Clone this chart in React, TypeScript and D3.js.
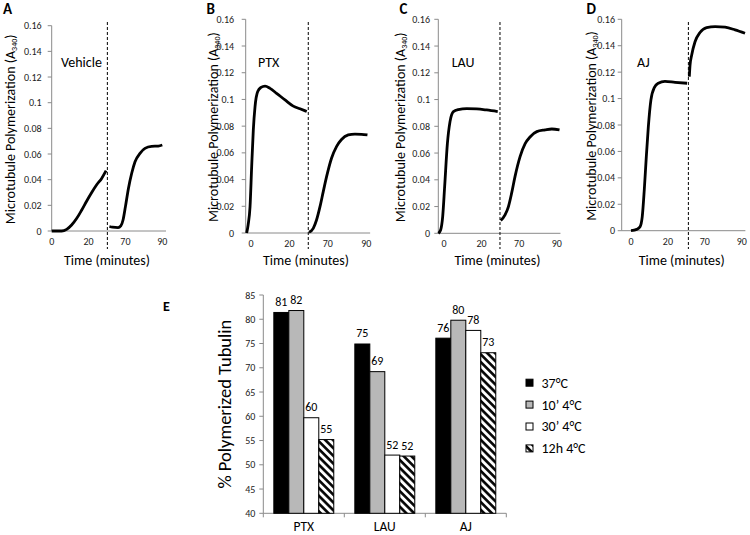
import React from "react";
import * as d3 from "d3";

// ---------- Panels A-D data (time in minutes as labelled, absorbance A340) ----------
const panelLetters = ["A", "B", "C", "D"];
const treatments = ["Vehicle", "PTX", "LAU", "AJ"];

const vehicleWarm: [number, number][] = [[0,0],[5.4,0],[8.1,0.0013],[10.8,0.0047],[13.6,0.0099],[16.3,0.0164],[19.0,0.0234],[21.7,0.030],[24.4,0.036],[27.1,0.041],[29.5,0.047]];
const vehicleRewarm: [number, number][] = [[61.3,0.0035],[63,0.003],[66,0.0027],[67.5,0.004],[68.7,0.0086],[70,0.019],[71.6,0.033],[73.4,0.045],[75.2,0.054],[77.9,0.0605],[80.6,0.0644],[84.2,0.066],[87.8,0.0662],[90,0.067]];

const ptxWarm: [number, number][] = [[-2.25,0],[-1.5,0.006],[-0.5,0.0197],[0.35,0.0497],[1.2,0.077],[2.1,0.0946],[3.5,0.106],[5.2,0.109],[7.3,0.110],[9.9,0.1083],[13.3,0.1046],[17.7,0.0996],[22,0.095],[25.5,0.093],[29,0.091]];
const ptxRewarm: [number, number][] = [[60.2,0.0005],[62.4,0.0035],[64.1,0.0097],[65.9,0.0197],[67.6,0.031],[69.3,0.042],[71.9,0.056],[74.5,0.0647],[77.1,0.070],[80.6,0.0734],[84.1,0.0741],[87.5,0.0739],[90.6,0.0734]];

const lauWarm: [number, number][] = [[-3,0],[-1.8,0.0025],[-0.7,0.0125],[0.35,0.035],[1.8,0.067],[3.2,0.0835],[5,0.091],[7.6,0.0925],[12.1,0.0932],[17.4,0.093],[22.7,0.0922],[28.6,0.091]];
const lauRewarm: [number, number][] = [[60.2,0.0095],[62.5,0.0137],[64.3,0.020],[66,0.030],[67.8,0.0424],[70.5,0.0573],[73.2,0.067],[75.8,0.072],[79.4,0.076],[83.8,0.0773],[87.4,0.078],[91.5,0.0773]];

const ajWarm: [number, number][] = [[0,0],[3.1,0.001],[4.9,0.003],[6.1,0.0106],[7.2,0.031],[8.3,0.056],[9.4,0.0787],[10.8,0.099],[12.7,0.1085],[14.8,0.1116],[18.4,0.113],[23.9,0.1123],[30.4,0.1116]];
const ajRewarm: [number, number][] = [[61.6,0.1166],[62,0.1254],[62.9,0.133],[64.7,0.143],[67.4,0.150],[71,0.1537],[75.6,0.1545],[81,0.154],[86.4,0.152],[91.8,0.1494]];

const warmSeries = [vehicleWarm, ptxWarm, lauWarm, ajWarm];
const rewarmSeries = [vehicleRewarm, ptxRewarm, lauRewarm, ajRewarm];

const timeTicks = [0, 20, 70, 90];
const absTicks = [0, 0.02, 0.04, 0.06, 0.08, 0.1, 0.12, 0.14, 0.16];
const coldStart = [30.2, 29.8, 29.8, 31.1]; // dashed line (cold shift) in axis units

// ---------- Panel E data ----------
const drugs = ["PTX", "LAU", "AJ"];
const conditions = ["37°C", "10’ 4°C", "30’ 4°C", "12h 4°C"];
const val37 = [81.4, 74.9, 76.1];
const val10 = [81.8, 69.2, 79.8];
const val30 = [59.7, 52.0, 77.7];
const val12h = [55.2, 51.8, 73.1];
const pctTicks = [40, 45, 50, 55, 60, 65, 70, 75, 80, 85];

// ---------- layout ----------
const FONT = "Carlito, Calibri, Lato, 'Open Sans', sans-serif";
const AXIS = "#8a8a8a";

const panels = [
  { yAxisX: 51.7, x0: 51.7, x60: 162.3, y0: 231, y16: 25.7, lx: 3, tx: 14.5, trx: 61, tickGap: 10 },
  { yAxisX: 245.7, x0: 251, x60: 366.3, y0: 233, y16: 19.3, lx: 206.5, tx: 217.5, trx: 258, tickGap: 11.5 },
  { yAxisX: 438.3, x0: 444, x60: 556.7, y0: 233.3, y16: 19.3, lx: 399.5, tx: 404.5, trx: 451.7, tickGap: 8.3 },
  { yAxisX: 621.7, x0: 631, x60: 741.7, y0: 230.7, y16: 19.3, lx: 586.5, tx: 595.5, trx: 637, tickGap: 6.7 },
];

// the time axis is broken: 0–30 min, then 60–90 min
const axisUnit = (t: number) => (t > 45 ? t - 30 : t);

function KineticPanel({ i }: { i: number }) {
  const p = panels[i];
  const x = d3.scaleLinear().domain([0, 60]).range([p.x0, p.x60]);
  const y = d3.scaleLinear().domain([0, 0.16]).range([p.y0, p.y16]);
  const line = d3
    .line<[number, number]>()
    .x((d) => x(axisUnit(d[0])))
    .y((d) => y(d[1]))
    .curve(d3.curveMonotoneX);
  const xEnd = x(62);
  const dashX = x(coldStart[i]);
  const titleY = (p.y0 + p.y16) / 2 + 1;
  return (
    <g fontFamily={FONT}>
      <text x={p.lx} y={14} fontSize={15} fontWeight="bold" fill="#000">{panelLetters[i]}</text>
      {/* y axis */}
      <line x1={p.yAxisX} x2={p.yAxisX} y1={y(0)} y2={y(0.16)} stroke={AXIS} strokeWidth={1} />
      {absTicks.map((t) => (
        <g key={t}>
          <line x1={p.yAxisX - 4} x2={p.yAxisX} y1={y(t)} y2={y(t)} stroke={AXIS} />
          <text x={p.yAxisX - p.tickGap} y={y(t)} dy="0.35em" textAnchor="end" fontSize={10} fill="#222">
            {d3.format("~g")(t)}
          </text>
        </g>
      ))}
      {/* x axis */}
      <line x1={p.yAxisX} x2={xEnd} y1={y(0)} y2={y(0)} stroke={AXIS} />
      {timeTicks.map((t) => (
        <text key={t} x={x(axisUnit(t))} y={y(0) + 14} textAnchor="middle" fontSize={10} fill="#222">
          {t}
        </text>
      ))}
      <text x={(p.yAxisX + p.x60) / 2} y={265} textAnchor="middle" fontSize={14} fill="#000">
        Time (minutes)
      </text>
      <text
        transform={`translate(${p.tx},${titleY}) rotate(-90)`}
        textAnchor="middle"
        fontSize={14}
        fill="#000"
      >
        Microtubule Polymerization (A
        <tspan dy={2} fontSize={8}>340</tspan>
        <tspan dy={-2}>)</tspan>
      </text>
      <text x={p.trx} y={67} fontSize={14} fill="#000">{treatments[i]}</text>
      {/* cold shift */}
      <line x1={dashX} x2={dashX} y1={22} y2={249} stroke="#000" strokeWidth={1} strokeDasharray="3,2" />
      <path d={line(warmSeries[i]) || ""} fill="none" stroke="#000" strokeWidth={2.8} />
      <path d={line(rewarmSeries[i]) || ""} fill="none" stroke="#000" strokeWidth={2.8} />
    </g>
  );
}

const fills = ["#000000", "#b8b8b8", "#ffffff", "url(#hatch)"];

function BarPanel() {
  const x = d3.scaleBand().domain(drugs).range([263.3, 506.3]).paddingInner(0.26).paddingOuter(0.13);
  const xs = d3.scaleBand().domain(conditions).range([0, x.bandwidth()]);
  const y = d3.scaleLinear().domain([40, 85]).range([513.3, 295]);
  const rows = drugs.map((d, j) => ({ drug: d, vals: [val37[j], val10[j], val30[j], val12h[j]] }));
  const step = x.step();
  const start = 263.3;
  return (
    <g fontFamily={FONT}>
      <text x={163} y={311} fontSize={14} fontWeight="bold" fill="#000">E</text>
      {/* y axis */}
      <line x1={start} x2={start} y1={y(40)} y2={y(85)} stroke={AXIS} />
      {pctTicks.map((t) => (
        <g key={t}>
          <line x1={start - 4} x2={start} y1={y(t)} y2={y(t)} stroke={AXIS} />
          <text x={start - 8} y={y(t)} dy="0.35em" textAnchor="end" fontSize={10} fill="#222">{t}</text>
        </g>
      ))}
      <text transform={`translate(231,${(y(40) + y(85)) / 2}) rotate(-90)`} textAnchor="middle" fontSize={18.5} fill="#000">
        % Polymerized Tubulin
      </text>
      {/* x axis */}
      <line x1={start} x2={start + step * 3} y1={y(40)} y2={y(40)} stroke={AXIS} />
      {[0, 1, 2, 3].map((k) => (
        <line key={k} x1={start + step * k} x2={start + step * k} y1={y(40)} y2={y(40) + 4} stroke={AXIS} />
      ))}
      {rows.map((r) => (
        <g key={r.drug}>
          {r.vals.map((v, k) => {
            const bx = (x(r.drug) || 0) + (xs(conditions[k]) || 0);
            return (
              <g key={k}>
                <rect x={bx} y={y(v)} width={xs.bandwidth()} height={y(40) - y(v)} fill={fills[k]} stroke="#000" strokeWidth={1} />
                <text x={bx + xs.bandwidth() / 2} y={y(v) - 6.5} textAnchor="middle" fontSize={12} fill="#000">
                  {Math.round(v)}
                </text>
              </g>
            );
          })}
          <text x={(x(r.drug) || 0) + x.bandwidth() / 2} y={530.5} textAnchor="middle" fontSize={13.5} fill="#000">
            {r.drug}
          </text>
        </g>
      ))}
      {/* legend */}
      {conditions.map((c, k) => {
        const cy = 382.7 + k * 21.9;
        return (
          <g key={c}>
            <rect x={526} y={cy - 3.5} width={7} height={7} fill={fills[k]} stroke="#000" strokeWidth={1} />
            <text x={541.5} y={cy} dy="0.35em" fontSize={14} fill="#000">{c}</text>
          </g>
        );
      })}
    </g>
  );
}

export default function App() {
  return (
    <svg width={750} height={535} style={{ position: "absolute", left: 0, top: 0, background: "#fff" }}>
      <defs>
        <pattern id="hatch" patternUnits="userSpaceOnUse" width={5.5} height={5.5} patternTransform="rotate(-45)">
          <rect width={5.5} height={5.5} fill="#fff" />
          <line x1={1.4} y1={0} x2={1.4} y2={5.5} stroke="#000" strokeWidth={2.6} />
        </pattern>
      </defs>
      <rect width={750} height={535} fill="#fff" />
      {panels.map((_, i) => (
        <KineticPanel key={i} i={i} />
      ))}
      <BarPanel />
    </svg>
  );
}
